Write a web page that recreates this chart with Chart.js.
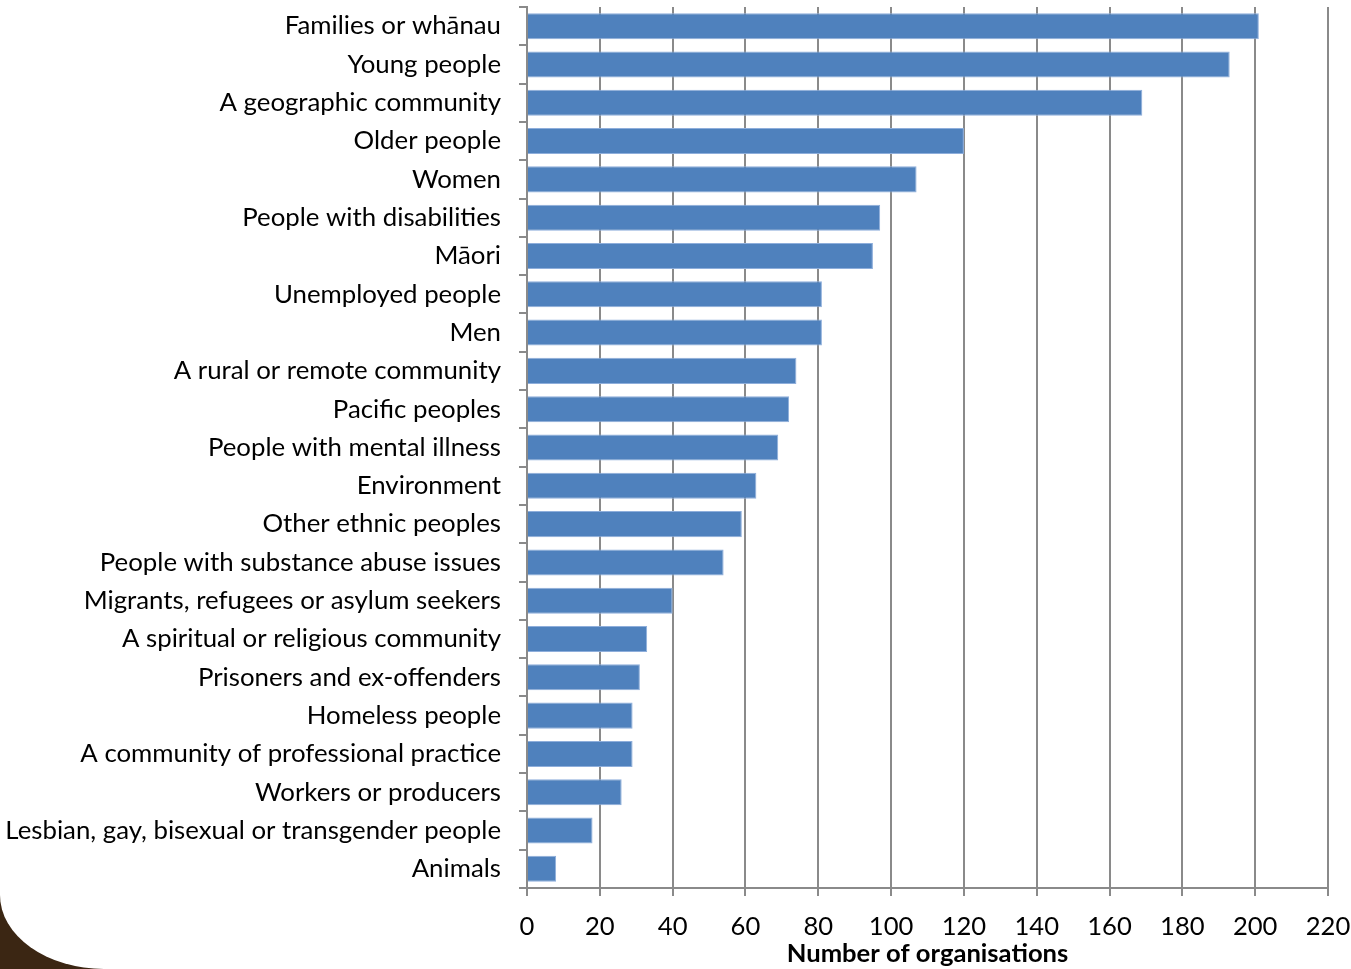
<!DOCTYPE html>
<html>
<head>
<meta charset="utf-8">
<script src="https://cdn.jsdelivr.net/npm/chart.js@4"></script>
<style>
  html, body { margin: 0; padding: 0; background: #fff; }
  #wrap { position: relative; width: 1351px; height: 969px; overflow: hidden; }
  #corner { position: absolute; left: 0; bottom: 0; width: 110px; height: 76px; background: #3b2613; }
  #cornerMask { position: absolute; left: 0; bottom: 0; width: 112px; height: 78px; background: #fff; border-bottom-left-radius: 104px 74px; }
  canvas { position: absolute; left: 0; top: 0; }
</style>
</head>
<body>
<div id="wrap">
  <div id="corner"></div>
  <div id="cornerMask"></div>
  <canvas id="c" width="1351" height="969"></canvas>
</div>
<script>
const categories = [
  "Families or whānau",
  "Young people",
  "A geographic community",
  "Older people",
  "Women",
  "People with disabilities",
  "Māori",
  "Unemployed people",
  "Men",
  "A rural or remote community",
  "Pacific peoples",
  "People with mental illness",
  "Environment",
  "Other ethnic peoples",
  "People with substance abuse issues",
  "Migrants, refugees or asylum seekers",
  "A spiritual or religious community",
  "Prisoners and ex-offenders",
  "Homeless people",
  "A community of professional practice",
  "Workers or producers",
  "Lesbian, gay, bisexual or transgender people",
  "Animals"
];
const organisations = [201, 193, 169, 120, 107, 97, 95, 81, 81, 74, 72, 69, 63, 59, 54, 40, 33, 31, 29, 29, 26, 18, 8];
const xTicks = [0, 20, 40, 60, 80, 100, 120, 140, 160, 180, 200, 220];
const xTitle = "Number of organisations";

const FONT = "Lato, 'Open Sans', sans-serif";
const GRID = "#8a8a8a";

new Chart(document.getElementById('c'), {
  type: 'bar',
  data: {
    labels: categories,
    datasets: [{
      data: organisations,
      backgroundColor: '#4f81bd',
      borderColor: '#8eaedb',
      borderWidth: 1,
      barPercentage: 0.68,
      categoryPercentage: 1
    }]
  },
  options: {
    indexAxis: 'y',
    responsive: false,
    devicePixelRatio: 1,
    animation: false,
    layout: { padding: { top: 7, right: 23, left: 0, bottom: 0 } },
    plugins: { legend: { display: false }, tooltip: { enabled: false } },
    scales: {
      x: {
        type: 'linear',
        min: 0,
        max: 220,
        afterBuildTicks: (s) => { s.ticks = xTicks.map(v => ({ value: v })); },
        afterFit: (s) => { s.height = 81; s.paddingLeft = 0; s.paddingRight = 0; },
        grid: { color: GRID, lineWidth: 2, tickLength: 8, drawOnChartArea: true },
        border: { color: GRID, width: 2 },
        ticks: { color: '#000', font: { family: FONT, size: 25.6 }, padding: 15, maxRotation: 0 },
        title: { display: true, text: xTitle, color: '#000', font: { family: FONT, size: 25.6, weight: 'bold' }, padding: { top: 0, bottom: 0 } }
      },
      y: {
        afterFit: (s) => { s.width = 527; s.paddingTop = 0; s.paddingBottom = 0; },
        grid: { color: GRID, lineWidth: 2, tickLength: 8, drawOnChartArea: false, offset: true },
        border: { color: GRID, width: 2 },
        ticks: { color: '#000', font: { family: FONT, size: 25.8 }, padding: 18, autoSkip: false }
      }
    }
  }
});
</script>
</body>
</html>
